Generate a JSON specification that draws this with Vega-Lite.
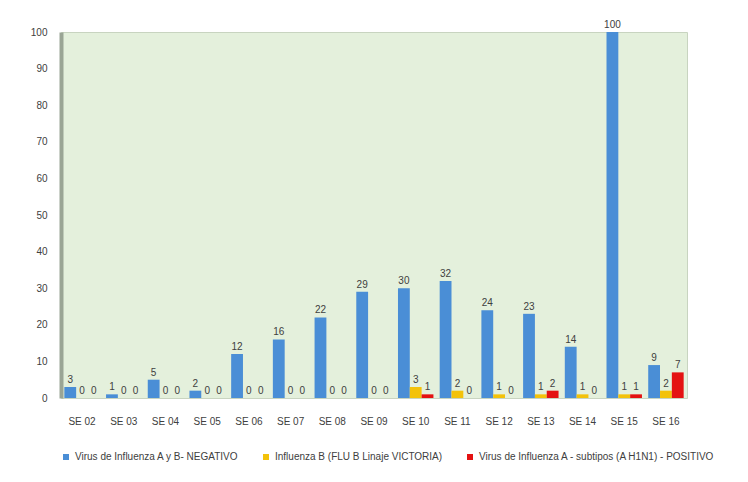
{
  "$schema": "https://vega.github.io/schema/vega-lite/v6.json",
  "width": 626,
  "height": 366,
  "padding": {"left": 30, "top": 20, "right": 60, "bottom": 5},
  "background": "white",
  "config": {
    "font": "Liberation Sans",
    "view": {"fill": "#e4f0dc", "stroke": "#c8d4c0"}
  },
  "data": {
    "values": [
      {"se": "SE 02", "serie": "Virus de Influenza A y B- NEGATIVO", "v": 3},
      {"se": "SE 03", "serie": "Virus de Influenza A y B- NEGATIVO", "v": 1},
      {"se": "SE 04", "serie": "Virus de Influenza A y B- NEGATIVO", "v": 5},
      {"se": "SE 05", "serie": "Virus de Influenza A y B- NEGATIVO", "v": 2},
      {"se": "SE 06", "serie": "Virus de Influenza A y B- NEGATIVO", "v": 12},
      {"se": "SE 07", "serie": "Virus de Influenza A y B- NEGATIVO", "v": 16},
      {"se": "SE 08", "serie": "Virus de Influenza A y B- NEGATIVO", "v": 22},
      {"se": "SE 09", "serie": "Virus de Influenza A y B- NEGATIVO", "v": 29},
      {"se": "SE 10", "serie": "Virus de Influenza A y B- NEGATIVO", "v": 30},
      {"se": "SE 11", "serie": "Virus de Influenza A y B- NEGATIVO", "v": 32},
      {"se": "SE 12", "serie": "Virus de Influenza A y B- NEGATIVO", "v": 24},
      {"se": "SE 13", "serie": "Virus de Influenza A y B- NEGATIVO", "v": 23},
      {"se": "SE 14", "serie": "Virus de Influenza A y B- NEGATIVO", "v": 14},
      {"se": "SE 15", "serie": "Virus de Influenza A y B- NEGATIVO", "v": 100},
      {"se": "SE 16", "serie": "Virus de Influenza A y B- NEGATIVO", "v": 9},
      {"se": "SE 02", "serie": "Influenza B (FLU B Linaje VICTORIA)", "v": 0},
      {"se": "SE 03", "serie": "Influenza B (FLU B Linaje VICTORIA)", "v": 0},
      {"se": "SE 04", "serie": "Influenza B (FLU B Linaje VICTORIA)", "v": 0},
      {"se": "SE 05", "serie": "Influenza B (FLU B Linaje VICTORIA)", "v": 0},
      {"se": "SE 06", "serie": "Influenza B (FLU B Linaje VICTORIA)", "v": 0},
      {"se": "SE 07", "serie": "Influenza B (FLU B Linaje VICTORIA)", "v": 0},
      {"se": "SE 08", "serie": "Influenza B (FLU B Linaje VICTORIA)", "v": 0},
      {"se": "SE 09", "serie": "Influenza B (FLU B Linaje VICTORIA)", "v": 0},
      {"se": "SE 10", "serie": "Influenza B (FLU B Linaje VICTORIA)", "v": 3},
      {"se": "SE 11", "serie": "Influenza B (FLU B Linaje VICTORIA)", "v": 2},
      {"se": "SE 12", "serie": "Influenza B (FLU B Linaje VICTORIA)", "v": 1},
      {"se": "SE 13", "serie": "Influenza B (FLU B Linaje VICTORIA)", "v": 1},
      {"se": "SE 14", "serie": "Influenza B (FLU B Linaje VICTORIA)", "v": 1},
      {"se": "SE 15", "serie": "Influenza B (FLU B Linaje VICTORIA)", "v": 1},
      {"se": "SE 16", "serie": "Influenza B (FLU B Linaje VICTORIA)", "v": 2},
      {"se": "SE 02", "serie": "Virus de Influenza A - subtipos (A H1N1) - POSITIVO", "v": 0},
      {"se": "SE 03", "serie": "Virus de Influenza A - subtipos (A H1N1) - POSITIVO", "v": 0},
      {"se": "SE 04", "serie": "Virus de Influenza A - subtipos (A H1N1) - POSITIVO", "v": 0},
      {"se": "SE 05", "serie": "Virus de Influenza A - subtipos (A H1N1) - POSITIVO", "v": 0},
      {"se": "SE 06", "serie": "Virus de Influenza A - subtipos (A H1N1) - POSITIVO", "v": 0},
      {"se": "SE 07", "serie": "Virus de Influenza A - subtipos (A H1N1) - POSITIVO", "v": 0},
      {"se": "SE 08", "serie": "Virus de Influenza A - subtipos (A H1N1) - POSITIVO", "v": 0},
      {"se": "SE 09", "serie": "Virus de Influenza A - subtipos (A H1N1) - POSITIVO", "v": 0},
      {"se": "SE 10", "serie": "Virus de Influenza A - subtipos (A H1N1) - POSITIVO", "v": 1},
      {"se": "SE 11", "serie": "Virus de Influenza A - subtipos (A H1N1) - POSITIVO", "v": 0},
      {"se": "SE 12", "serie": "Virus de Influenza A - subtipos (A H1N1) - POSITIVO", "v": 0},
      {"se": "SE 13", "serie": "Virus de Influenza A - subtipos (A H1N1) - POSITIVO", "v": 2},
      {"se": "SE 14", "serie": "Virus de Influenza A - subtipos (A H1N1) - POSITIVO", "v": 0},
      {"se": "SE 15", "serie": "Virus de Influenza A - subtipos (A H1N1) - POSITIVO", "v": 1},
      {"se": "SE 16", "serie": "Virus de Influenza A - subtipos (A H1N1) - POSITIVO", "v": 7}
    ]
  },
  "encoding": {
    "x": {
      "field": "se", "type": "nominal", "title": null,
      "scale": {"paddingInner": 0.15, "paddingOuter": 0.08},
      "axis": {"labelAngle": 0, "labelFontSize": 10, "labelColor": "#404040", "domain": false, "ticks": false, "labelPadding": 18}
    },
    "xOffset": {"field": "serie", "type": "nominal", "sort": ["Virus de Influenza A y B- NEGATIVO", "Influenza B (FLU B Linaje VICTORIA)", "Virus de Influenza A - subtipos (A H1N1) - POSITIVO"]},
    "y": {
      "field": "v", "type": "quantitative", "title": null,
      "scale": {"domain": [0, 100]},
      "axis": {"values": [0,10,20,30,40,50,60,70,80,90,100], "grid": false, "domain": true, "domainColor": "#9aa595", "domainWidth": 4, "ticks": false, "labelFontSize": 10, "labelColor": "#404040", "labelPadding": 14}
    },
    "color": {
      "field": "serie", "type": "nominal", "title": null,
      "sort": ["Virus de Influenza A y B- NEGATIVO", "Influenza B (FLU B Linaje VICTORIA)", "Virus de Influenza A - subtipos (A H1N1) - POSITIVO"],
      "scale": {"range": ["#4a8ed6", "#f3c20a", "#e41212"]},
      "legend": {"orient": "bottom", "direction": "horizontal", "symbolType": "square", "symbolSize": 36, "labelFontSize": 10, "labelColor": "#404040", "offset": 26, "columnPadding": 22, "labelLimit": 400}
    }
  },
  "layer": [
    {"mark": {"type": "bar"}},
    {"mark": {"type": "text", "dy": -7, "fontSize": 10, "color": "#404040"}, "encoding": {"text": {"field": "v", "type": "quantitative"}, "color": {"value": "#404040"}}}
  ]
}
